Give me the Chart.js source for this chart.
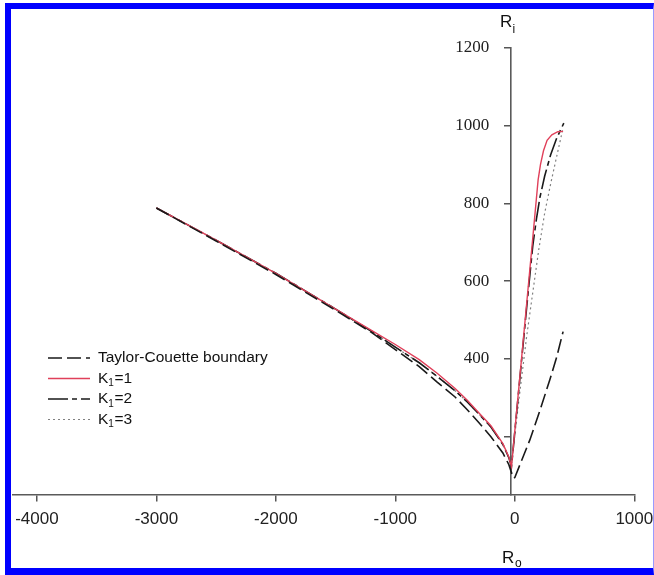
<!DOCTYPE html>
<html><head><meta charset="utf-8">
<script src="https://cdn.jsdelivr.net/npm/chart.js@4.4.1/dist/chart.umd.min.js"></script>
<style>
html,body{margin:0;padding:0;background:#fff;}
#wrap{position:relative;width:654px;height:575px;overflow:hidden;background:#fff;}
#c{position:absolute;left:0;top:0;}
#frame{position:absolute;left:5px;top:3px;width:649px;height:572px;box-sizing:border-box;border-left:6px solid #0000ff;border-top:6px solid #0000ff;border-bottom:7px solid #0000ff;border-right:1px solid #9a9aff;pointer-events:none;}
</style></head>
<body><div id="wrap"><canvas id="c" width="654" height="575"></canvas><div id="frame"></div></div>
<script>
// tick values
const xTicks = [-4000, -3000, -2000, -1000, 0, 1000];
const yTicks = [200, 400, 600, 800, 1000, 1200];
const yLabeled = [400, 600, 800, 1000, 1200];

// Taylor-Couette boundary
const tcRo = [-3000, -2500, -2000, -1500, -1200, -1000, -800, -650, -500, -400, -300, -200, -100, -50, -25, -10, 0, 56, 125, 200, 293, 350, 404];
const tcRi = [788, 703, 617, 525, 468, 424, 380, 340, 302, 270, 236, 200, 158, 128, 105, 93, 95, 138, 191, 258, 346, 404, 470];

// K1 = 1
const k1Ro = [-3000, -2500, -2000, -1500, -1200, -1000, -800, -650, -500, -400, -300, -200, -100, -50, -28, 0, 50, 100, 150, 195, 215, 240, 270, 310, 360, 404];
const k1Ri = [788, 705, 620, 528, 473, 437, 398, 363, 324, 294, 261, 228, 182, 148, 123, 215, 380, 545, 710, 860, 900, 935, 962, 976, 984, 985];

// K1 = 2
const k2Ro = [-3000, -2500, -2000, -1500, -1200, -1000, -800, -650, -500, -400, -300, -200, -100, -50, -28, 0, 50, 100, 150, 181, 210, 250, 300, 350, 410];
const k2Ri = [788, 705, 620, 528, 471, 430, 390, 355, 318, 290, 258, 225, 180, 146, 123, 213, 375, 535, 690, 760, 815, 870, 925, 967, 1006];

// K1 = 3
const k3Ro = [-3000, -2500, -2000, -1500, -1200, -1000, -800, -650, -500, -400, -300, -200, -100, -50, -28, 0, 50, 100, 150, 200, 250, 300, 350, 405];
const k3Ri = [788, 705, 620, 528, 471, 430, 390, 355, 318, 290, 258, 225, 180, 146, 123, 205, 335, 460, 570, 680, 775, 850, 920, 995];

const legendParts = [
  ['Taylor-Couette boundary', '', ''],
  ['K', '1', '=1'],
  ['K', '1', '=2'],
  ['K', '1', '=3']
];
const yTitle = ['R', 'i'];
const xTitle = ['R', 'o'];

function pts(xs, ys) { return xs.map((x, i) => ({x: x, y: ys[i]})); }
function zeroPad(s) { s.paddingLeft = 0; s.paddingRight = 0; s.paddingTop = 0; s.paddingBottom = 0; }

const decor = {
  id: 'decor',
  afterDraw(chart) {
    const ctx = chart.ctx;
    ctx.save();
    ctx.fillStyle = '#111';
    ctx.textBaseline = 'alphabetic';
    ctx.textAlign = 'left';
    // axis titles
    ctx.font = '17px "Liberation Sans"';
    ctx.fillText(yTitle[0], 500, 26.5);
    ctx.fillText(xTitle[0], 502, 562.5);
    ctx.font = '12px "Liberation Sans"';
    ctx.fillText(yTitle[1], 512.5, 32.5);
    ctx.fillText(xTitle[1], 515, 567);
    // legend
    const ds = chart.data.datasets;
    for (let i = 0; i < legendParts.length; i++) {
      const y = 358 + i * 20.5;
      const d = ds[i];
      ctx.save();
      ctx.strokeStyle = d.borderColor;
      ctx.lineWidth = d.borderWidth;
      ctx.setLineDash(d.borderDash || []);
      ctx.beginPath();
      ctx.moveTo(48, y);
      ctx.lineTo(90, y);
      ctx.stroke();
      ctx.restore();
      const p = legendParts[i];
      ctx.textBaseline = 'middle';
      ctx.font = '15.5px "Liberation Sans"';
      let x = 98;
      ctx.fillText(p[0], x, y);
      x += ctx.measureText(p[0]).width;
      if (p[1]) {
        ctx.font = '10px "Liberation Sans"';
        ctx.fillText(p[1], x, y + 5);
        x += ctx.measureText(p[1]).width + 0.5;
        ctx.font = '15.5px "Liberation Sans"';
        ctx.fillText(p[2], x, y);
      }
    }
    ctx.restore();
  }
};

new Chart(document.getElementById('c'), {
  type: 'scatter',
  data: {
    datasets: [
      {label: 'Taylor-Couette boundary', data: pts(tcRo, tcRi), borderColor: '#1a1a1a', borderWidth: 1.6, borderDash: [14, 5]},
      {label: 'K1=1', data: pts(k1Ro, k1Ri), borderColor: '#e0405a', borderWidth: 1.4},
      {label: 'K1=2', data: pts(k2Ro, k2Ri), borderColor: '#1a1a1a', borderWidth: 1.6, borderDash: [20, 4, 5, 4]},
      {label: 'K1=3', data: pts(k3Ro, k3Ri), borderColor: '#808080', borderWidth: 1.2, borderDash: [2, 3]}
    ].map(d => Object.assign(d, {showLine: true, pointRadius: 0, pointHoverRadius: 0, fill: false, tension: 0}))
  },
  options: {
    responsive: false,
    animation: false,
    events: [],
    layout: {padding: {left: 13, right: 19.7, top: 47.7, bottom: 80}},
    plugins: {legend: {display: false}, tooltip: {enabled: false}, title: {display: false}},
    scales: {
      x: {
        type: 'linear', min: -4200, max: 1000, position: {y: 50},
        afterBuildTicks: s => { s.ticks = xTicks.map(v => ({value: v})); },
        afterFit: zeroPad,
        grid: {drawOnChartArea: false, drawTicks: true, tickLength: 6, color: '#555', lineWidth: 1.5},
        border: {display: true, color: '#5a5a5a', width: 1.6},
        ticks: {font: {family: 'Liberation Sans', size: 17}, color: '#222', padding: 8, maxRotation: 0, autoSkip: false, callback: v => String(v)}
      },
      y: {
        type: 'linear', min: 50, max: 1200, position: {x: -36},
        afterBuildTicks: s => { s.ticks = yTicks.map(v => ({value: v})); },
        afterFit: zeroPad,
        grid: {drawOnChartArea: false, drawTicks: true, tickLength: 6, color: '#555', lineWidth: 1.5},
        border: {display: true, color: '#5a5a5a', width: 1.6},
        ticks: {font: {family: 'Liberation Serif', size: 17}, color: '#222', autoSkip: false, callback: v => yLabeled.includes(v) ? String(v) + '     ' : ''}
      }
    }
  },
  plugins: [decor]
});
</script>
</body></html>
